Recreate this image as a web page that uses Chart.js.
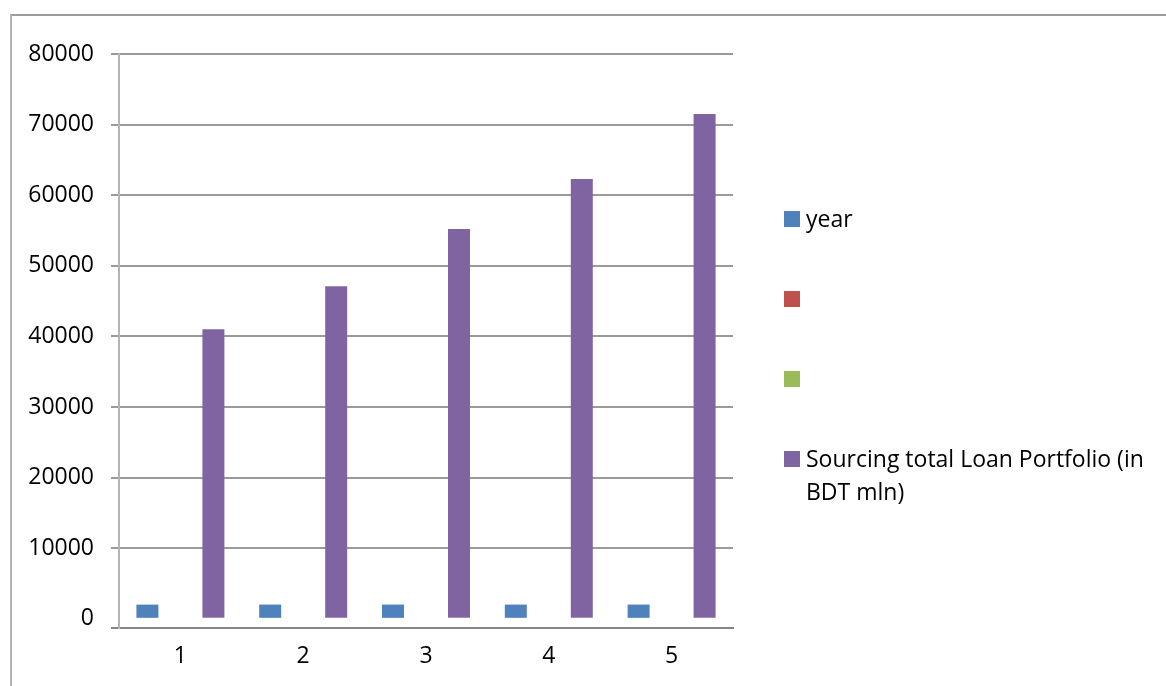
<!DOCTYPE html>
<html>
<head>
<meta charset="utf-8">
<script src="https://cdn.jsdelivr.net/npm/chart.js@4/dist/chart.umd.min.js"></script>
<style>
  body { margin: 0; background: #fff; font-family: "Open Sans", sans-serif; }
  #wrap { position: relative; width: 1166px; height: 686px; overflow: hidden; }
  #frame {
    position: absolute; left: 10px; top: 14px; width: 1200px; height: 700px;
    border-top: 2px solid #9c9c9c; border-left: 2px solid #b4b4b4;
  }
  #chart { position: absolute; left: 0; top: 0; }
  #legend { position: absolute; left: 784px; top: 202px; }
  .item { display: flex; align-items: flex-start; min-height: 33px; margin-bottom: 47px;
          font-size: 23px; line-height: 33px; color: #000; }
  .box { width: 16px; height: 16px; margin-top: 9px; margin-right: 6px; flex: none; }
  .text { width: 350px; }
</style>
</head>
<body>
<div id="wrap">
  <div id="frame"></div>
  <canvas id="chart" width="1166" height="686"></canvas>
  <div id="legend"></div>
</div>
<script>
const categories = ["1", "2", "3", "4", "5"];
const seriesLabels = ["year", "", "", "Sourcing total Loan Portfolio (in BDT mln)"];
const seriesColors = ["#4f81bd", "#c0504d", "#9bbb59", "#8064a2"];
const yearValues = [2014, 2015, 2016, 2017, 2018];
const redValues = [];
const greenValues = [];
const loanValues = [41000, 47100, 55200, 62300, 71500];
const yTicks = [0, 10000, 20000, 30000, 40000, 50000, 60000, 70000, 80000];

const yMin = -1300;
const seriesValues = [yearValues, redValues, greenValues, loanValues];

const chart = new Chart(document.getElementById("chart"), {
  type: "bar",
  data: {
    labels: categories,
    datasets: seriesLabels.map((label, i) => ({
      label: label,
      data: seriesValues[i],
      backgroundColor: seriesColors[i],
      borderWidth: 0,
      barPercentage: 1,
      categoryPercentage: 0.7166,
    })),
  },
  options: {
    responsive: false,
    animation: false,
    layout: { padding: { left: 0, top: 54, right: 433, bottom: 0 } },
    plugins: {
      legend: { display: false },
      tooltip: { enabled: false },
    },
    scales: {
      x: {
        grid: { display: false, drawTicks: false },
        border: { display: true, color: "#858585", width: 2 },
        ticks: {
          color: "#000",
          padding: 15,
          font: { family: "Open Sans", size: 23 },
        },
        afterFit: (scale) => {
          scale.height = 58;
        },
      },
      y: {
        min: yMin,
        max: 80000,
        afterBuildTicks: (scale) => {
          scale.ticks = [{ value: yMin }].concat(yTicks.map((v) => ({ value: v })));
        },
        afterFit: (scale) => {
          scale.width = 119;
        },
        grid: {
          lineWidth: 2,
          tickLength: 8,
          color: (ctx) => {
            if (ctx.tick.value === yMin) return "#858585";
            if (ctx.tick.value === 0) return "rgba(0,0,0,0)";
            return "#9a9a9a";
          },
        },
        border: { display: true, color: "#b4b4b4", width: 2 },
        ticks: {
          color: "#000",
          padding: 17,
          font: { family: "Open Sans", size: 23 },
          callback: (value) => (value === yMin ? "" : String(value)),
        },
      },
    },
  },
});

const legend = document.getElementById("legend");
seriesLabels.forEach((label, i) => {
  const item = document.createElement("div");
  item.className = "item";
  const box = document.createElement("div");
  box.className = "box";
  box.style.background = seriesColors[i];
  const text = document.createElement("div");
  text.className = "text";
  text.textContent = label;
  item.appendChild(box);
  item.appendChild(text);
  legend.appendChild(item);
});
</script>
</body>
</html>
